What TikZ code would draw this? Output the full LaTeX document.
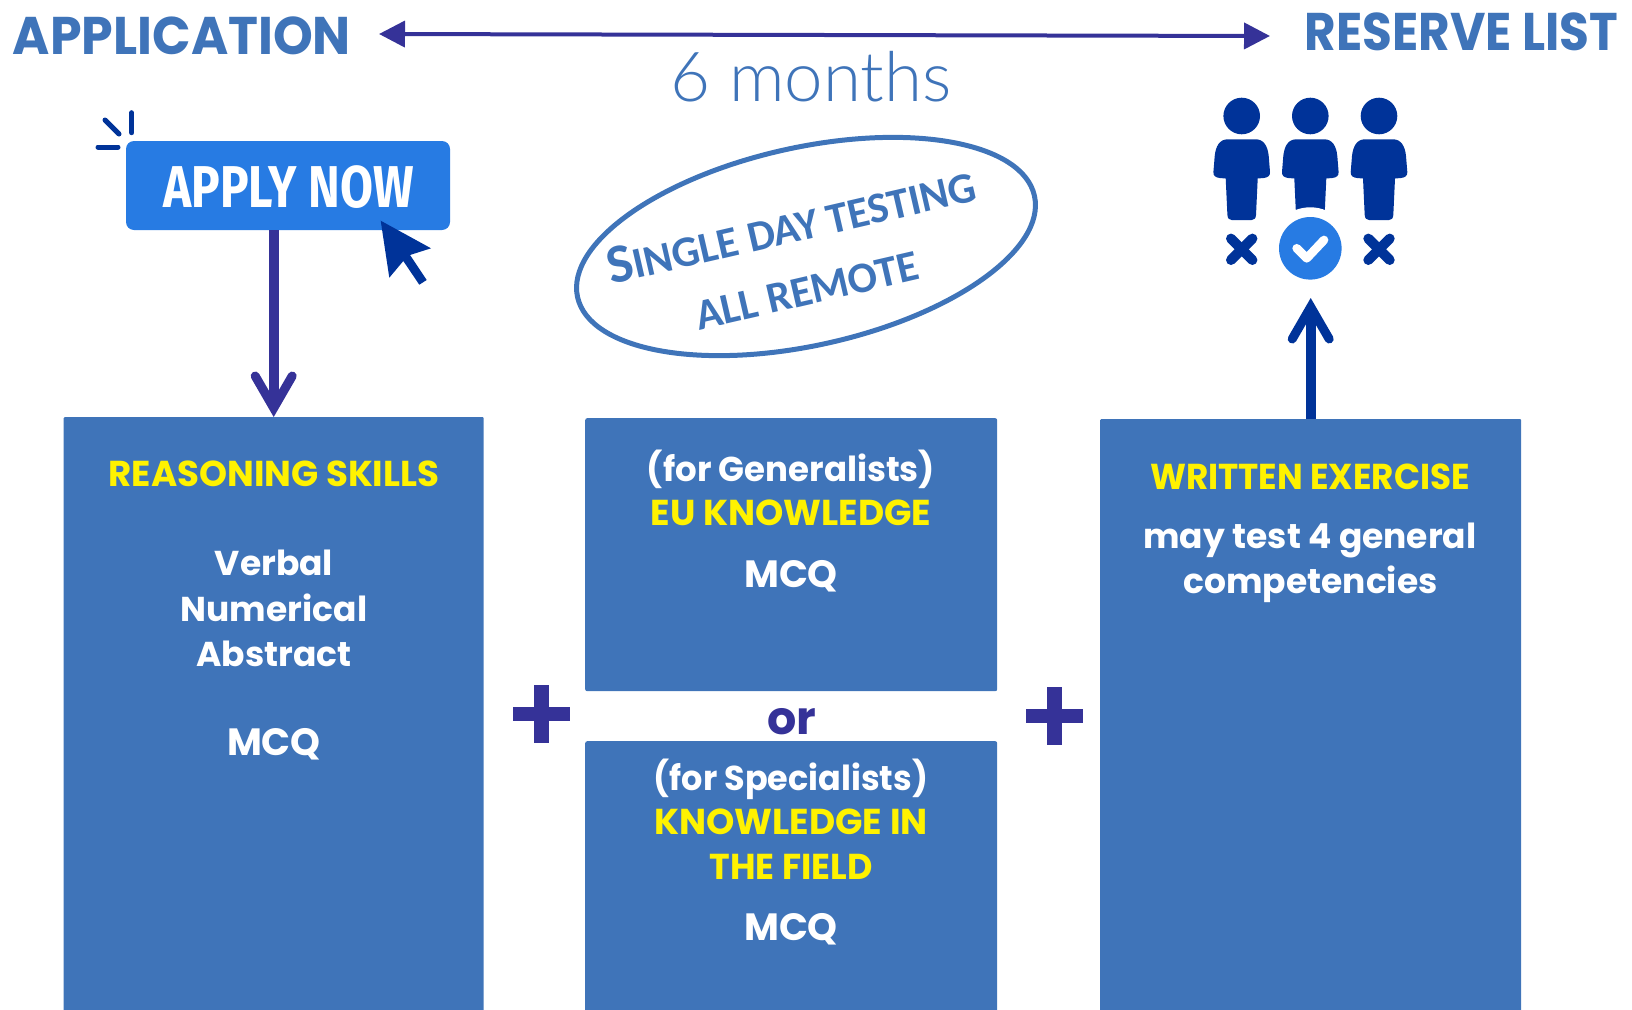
\documentclass[tikz,border=0pt]{standalone}
\usepackage{fontspec}
\usepackage{tikz}
\usetikzlibrary{arrows.meta}
\usetikzlibrary{shapes.geometric}
\setmainfont{Poppins}
\newfontfamily\calfont{Carlito}
\newfontfamily\firafont{Fira Sans}
\newfontfamily\thinfont{Lato Light}
\definecolor{boxblue}{HTML}{3F74B9}
\definecolor{navy}{HTML}{353298}
\definecolor{deep}{HTML}{003399}
\definecolor{btn}{HTML}{277BE3}
\newcommand{\fsz}[1]{\fontsize{#1}{#1}\selectfont}
\newcommand{\person}[1]{
\fill[deep] (#1,116) circle (18.3);
\fill[deep,shift={(#1,0)}] (-14,139.3) -- (14,139.3) .. controls (22,139.3) and (26,146) .. (27,156) -- (28.3,172) .. controls (28.5,176) and (26,177.5) .. (22,178) -- (16,178.5) -- (14.3,215) .. controls (14,218.5) and (12.5,220) .. (10,220) -- (-10,220) .. controls (-12.5,220) and (-14,218.5) .. (-14.3,215) -- (-16,178.5) -- (-22,178) .. controls (-26,177.5) and (-28.5,176) .. (-28.3,172) -- (-27,156) .. controls (-26,146) and (-22,139.3) .. (-14,139.3) -- cycle;
}
\tikzset{
  step box/.style={fill=boxblue,rounded corners=2pt,inner sep=0pt},
  whitetxt/.style={anchor=base,text=white,font=\bfseries\fsz{34.5},transform shape},
  yellowtxt/.style={anchor=base,text=yellow,font=\bfseries\fsz{36},transform shape},
  mcqtxt/.style={anchor=base,text=white,font=\bfseries\fsz{38},transform shape},
  headtxt/.style={anchor=base,text=boxblue,font=\bfseries\fsz{53},transform shape},
  stamptxt/.style={anchor=center,text=boxblue,font=\calfont\bfseries,rotate=13},
  barb/.style={-{Straight Barb[length=32pt,width=37pt,line width=9pt,line cap=round,line join=miter]}},
  thickarrow/.style={line width=10pt},
  spark/.style={deep,line width=5pt,line cap=round},
  crossmark/.style={deep,line width=10pt,line cap=round},
}
\begin{document}
\begin{tikzpicture}[x=1pt, y=-1pt]
\useasboundingbox (0,0) rectangle (1632,1009);
\node[headtxt,xscale=.955] (application) at (182,54) {APPLICATION};
\node[headtxt,xscale=.915] (reserve) at (1461.5,50) {RESERVE LIST};
\coordinate (leftend) at (379,34);
\coordinate (rightend) at (1270,36);
\draw[navy,line width=4pt,{Triangle[length=26pt,width=26pt]}-{Triangle[length=26pt,width=26pt]}] (leftend) -- (rightend);
\node[anchor=base,text=boxblue,font=\thinfont\fsz{69}] (months) at (811,101) {6 months};
\node[rectangle,fill=btn,rounded corners=8pt,minimum width=324pt,minimum height=89pt,inner sep=0pt] (apply) at (288,185.5) {};
\node[anchor=base,text=white,font=\firafont\bfseries\fsz{59},xscale=.81,transform shape] (applytxt) at (288.5,207) {APPLY NOW};
\draw[spark] (131.7,112.7) -- (131.7,132.7);
\draw[spark] (105,120) -- (119,134);
\draw[spark] (98,147) -- (118,147);
\fill[deep] (380.7,220.7) -- (431,248.3) -- (410,255) -- (426.7,280) -- (419.3,284.7) -- (403.3,261) -- (389.3,277.7) -- cycle;
\node[ellipse,draw=boxblue,line width=5pt,minimum width=468pt,minimum height=198pt,inner sep=0pt,rotate=12.5] (stamp) at (806,246.5) {};
\node[stamptxt] (stampa) at (791,225) {\fsz{55}S\fsz{43.5}INGLE DAY TESTING};
\node[stamptxt] (stampb) at (807,291) {\fsz{43.5}ALL REMOTE};
\node[step box,minimum width=420pt,minimum height=600pt,anchor=north west,rounded corners=1pt] (reasoning) at (63.5,417) {};
\node[step box,minimum width=412pt,minimum height=273pt,anchor=north west] (generalists) at (585,418) {};
\node[step box,minimum width=412pt,minimum height=280pt,anchor=north west] (specialists) at (585,741) {};
\node[step box,minimum width=421pt,minimum height=600pt,anchor=north west,rounded corners=1pt] (written) at (1100,419) {};
\draw[navy,thickarrow,barb] (reasoning.north |- apply.south) -- (reasoning.north);
\draw[deep,thickarrow,barb,shorten >=18pt] (written.north) -- (written.north |- 0,280);
\node[yellowtxt,xscale=.99] (reasontxt) at (274,486) {REASONING SKILLS};
\node[whitetxt] (verbal) at (274,575) {Verbal};
\node[whitetxt] (numerical) at (274,621) {Numerical};
\node[whitetxt] (abstract) at (274,666) {Abstract};
\node[mcqtxt] (mcqa) at (274,755) {MCQ};
\node[whitetxt,xscale=.985] (gentxt) at (791,481) {(for Generalists)};
\node[yellowtxt] (eutxt) at (791,525) {EU KNOWLEDGE};
\node[mcqtxt] (mcqb) at (791,587) {MCQ};
\node[anchor=base,text=navy,font=\bfseries\fsz{46}] (ortxt) at (792,734) {or};
\node[whitetxt,xscale=.97] (spectxt) at (791,790) {(for Specialists)};
\node[yellowtxt] (fielda) at (791,834) {KNOWLEDGE IN};
\node[yellowtxt,xscale=.97] (fieldb) at (791,879) {THE FIELD};
\node[mcqtxt] (mcqc) at (791,940) {MCQ};
\node[yellowtxt,xscale=.95] (writtentxt) at (1310,489) {WRITTEN EXERCISE};
\node[whitetxt] (testa) at (1310,548) {may test 4 general};
\node[whitetxt] (testb) at (1310.5,593) {competencies};
\fill[navy] (513,706.7) rectangle (570,721.3);
\fill[navy] (534.2,685) rectangle (548.8,743);
\fill[navy] (1026,708.7) rectangle (1083,723.3);
\fill[navy] (1047,687) rectangle (1061.7,745);
\person{1241.7}
\person{1310.3}
\person{1379}
\fill[white] (1310.3,248.3) circle (41);
\node[circle,fill=btn,minimum size=62.6pt,inner sep=0pt] (check) at (1310.3,248.3) {};
\draw[white,line width=8.7pt,line cap=round,line join=round] (1296.7,248.3) -- (1306.7,258.3) -- (1324,240);
\draw[crossmark] (1231,238.6) -- (1252.4,260);
\draw[crossmark] (1252.4,238.6) -- (1231,260);
\draw[crossmark] (1368.3,238.6) -- (1389.7,260);
\draw[crossmark] (1389.7,238.6) -- (1368.3,260);
\end{tikzpicture}
\end{document}
